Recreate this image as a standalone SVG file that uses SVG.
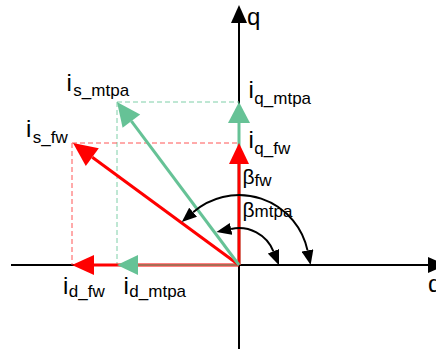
<svg xmlns="http://www.w3.org/2000/svg" width="436" height="349" viewBox="0 0 436 349">
<style>
text{font-family:"Liberation Sans",Arial,sans-serif;fill:#000}
.m{font-size:24px}
.s{font-size:17px}
.b{font-size:21px}
.ax{stroke:#000;stroke-width:2;fill:none}
.arc{stroke:#000;stroke-width:2;fill:none;marker-start:url(#ah);marker-end:url(#ah)}
.gd{stroke:#7fcfa8;stroke-width:1;stroke-dasharray:5,3;fill:none}
.rd{stroke:#ff5555;stroke-width:1;stroke-dasharray:5,3;fill:none}
.g{stroke:#66c296;stroke-width:3;fill:none}
.r{stroke:#ff0000;stroke-width:3;fill:none}
.gf{fill:#66c296}
.rf{fill:#ff0000}
</style>
<defs>
<marker id="ah" viewBox="0 0 15 12" refX="0" refY="6" markerWidth="15" markerHeight="12" markerUnits="userSpaceOnUse" orient="auto-start-reverse">
<path d="M0,0 L15,6 L0,12 z" fill="#000"/>
</marker>
</defs>
<g id="axes">
<line class="ax" x1="239" y1="349" x2="239" y2="20"/>
<polygon points="239,5 231,23 247,23" fill="#000"/>
<line class="ax" x1="11" y1="265" x2="430" y2="265"/>
<polygon points="428,257 428,273 446,265" fill="#000"/>
</g>
<g id="connectors">
<path class="gd" d="M117,102 H239 M117,102 V265"/>
<path class="rd" d="M72,143 H239 M72,143 V265"/>
<line class="g" x1="239" y1="265" x2="239" y2="122"/>
<polygon class="gf" points="239,102 228,123 250,123"/>
<line class="r" x1="239" y1="265" x2="239" y2="163"/>
<polygon class="rf" points="239,143 229,164 249,164"/>
<line class="r" x1="239" y1="265" x2="93" y2="265"/>
<polygon class="rf" points="72,265 94,255 94,275"/>
<line x1="239" y1="265" x2="137" y2="265" stroke="#66c296" stroke-width="1.5" opacity="0.75"/>
<polygon class="gf" points="117,265 138,255 138,275"/>
<line class="r" x1="239" y1="265" x2="92.3" y2="157.2"/>
<polygon class="rf" points="73,143 98.8,148.3 85.8,166.1"/>
<line class="g" x1="239" y1="265" x2="131.4" y2="121.2"/>
<polygon class="gf" points="117,102 140.2,114.6 122.6,127.8"/>
<path class="arc" d="M307.5,250.4 A70,70 0 0 0 193.1,212.2"/>
<path class="arc" d="M273.4,251.3 A37,37 0 0 0 231.1,228.9"/>
</g>
<g id="labels">
<text class="m" x="247" y="25">q</text>
<text class="m" x="428" y="292">d</text>
<text class="m" x="66.5" y="91">i<tspan class="s" dx="1.5" dy="5">s_mtpa</tspan></text>
<text class="m" x="26" y="137">i<tspan class="s" dx="1.5" dy="6">s_fw</tspan></text>
<text class="m" x="248.5" y="98">i<tspan class="s" dx="0.5" dy="6">q_mtpa</tspan></text>
<text class="m" x="248.5" y="148">i<tspan class="s" dx="0.5" dy="6">q_fw</tspan></text>
<text class="m" x="63" y="294">i<tspan class="s" dx="0.5" dy="3">d_fw</tspan></text>
<text class="m" x="123.5" y="294">i<tspan class="s" dx="0.5" dy="3">d_mtpa</tspan></text>
<text class="b" x="242.5" y="184">β<tspan class="s" dy="2">fw</tspan></text>
<text class="b" x="242.5" y="217">β<tspan class="s" dy="0">mtpa</tspan></text>
</g>
</svg>
